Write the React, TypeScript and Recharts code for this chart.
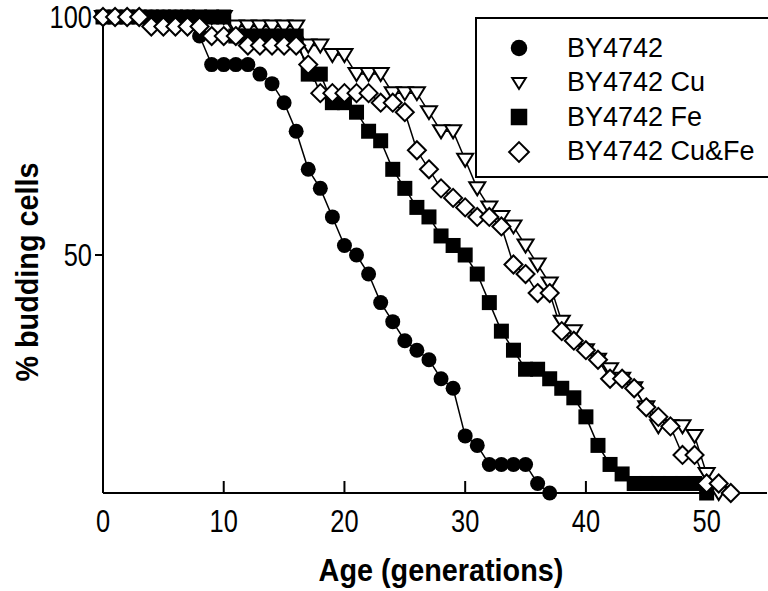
import React from 'react';
import { LineChart, Line, XAxis, YAxis, Legend } from 'recharts';

// generations (x categories)
const AGES = [
  0, 1, 2, 3, 4, 5, 6, 7, 8, 9, 10, 11, 12, 13, 14, 15, 16, 17, 18, 19, 20, 21, 22, 23, 24, 25, 26,
  27, 28, 29, 30, 31, 32, 33, 34, 35, 36, 37, 38, 39, 40, 41, 42, 43, 44, 45, 46, 47, 48, 49, 50, 51, 52,
];

// % budding cells per strain
const BY4742 = [
  100, 100, 100, 100, 100, 100, 100, 100, 96, 90, 90, 90, 90, 88, 86, 82, 76, 68, 64, 58, 52, 50, 46,
  40, 36, 32, 30, 28, 24, 22, 12, 10, 6, 6, 6, 6, 2, 0,
];
const BY4742_CU = [
  100, 100, 100, 100, 100, 100, 100, 100, 100, 100, 100, 98, 98, 98, 98, 98, 98, 94, 94, 92, 92, 88,
  88, 88, 84, 84, 84, 80, 76, 76, 70, 64, 60, 58, 56, 52, 48, 44, 36, 34, 30, 28, 26, 24, 22, 18, 14,
  14, 14, 12, 4, 0,
];
const BY4742_FE = [
  100, 100, 100, 100, 100, 100, 100, 100, 100, 100, 100, 96, 96, 96, 96, 96, 96, 88, 88, 82, 82, 80,
  76, 74, 68, 64, 60, 58, 54, 52, 50, 46, 40, 34, 30, 26, 26, 24, 22, 20, 16, 10, 6, 4, 2, 2, 2, 2, 2,
  2, 0,
];
const BY4742_CUFE = [
  100, 100, 100, 100, 98, 98, 98, 98, 98, 96, 96, 96, 94, 94, 94, 94, 94, 90, 84, 84, 84, 84, 84, 82,
  82, 80, 72, 68, 64, 62, 60, 58, 58, 56, 48, 46, 42, 42, 34, 32, 30, 28, 24, 24, 22, 18, 16, 14, 8, 8,
  2, 2, 0,
];

const X_TICKS = [0, 10, 20, 30, 40, 50];
const Y_TICKS = [50, 100];

const SERIES = [
  { key: 'by', name: 'BY4742', values: BY4742, shape: 'circle' },
  { key: 'cu', name: 'BY4742 Cu', values: BY4742_CU, shape: 'triangle' },
  { key: 'fe', name: 'BY4742 Fe', values: BY4742_FE, shape: 'square' },
  { key: 'cufe', name: 'BY4742 Cu&Fe', values: BY4742_CUFE, shape: 'diamond' },
];

const data = AGES.map((age, i) => {
  const row: Record<string, number | undefined> = { age };
  SERIES.forEach((s) => {
    row[s.key] = s.values[i];
  });
  return row;
});

const FONT = '"Liberation Sans", Arial, sans-serif';
// narrow look of the original axis text: regular face squeezed horizontally
const SQUEEZE = 0.82;

const Marker = ({ shape, cx, cy, s = 1 }: { shape: string; cx: number; cy: number; s?: number }) => {
  if (shape === 'circle') return <circle cx={cx} cy={cy} r={7.5 * s} fill="#000" />;
  if (shape === 'square')
    return <rect x={cx - 7.5 * s} y={cy - 7.5 * s} width={15 * s} height={15 * s} fill="#000" />;
  if (shape === 'triangle')
    return (
      <path
        d={`M${cx - 8 * s},${cy - 6 * s}L${cx + 8 * s},${cy - 6 * s}L${cx},${cy + 7 * s}Z`}
        fill="#fff"
        stroke="#000"
        strokeWidth={2}
      />
    );
  return (
    <path
      d={`M${cx},${cy - 9 * s}L${cx + 9 * s},${cy}L${cx},${cy + 9 * s}L${cx - 9 * s},${cy}Z`}
      fill="#fff"
      stroke="#000"
      strokeWidth={2}
    />
  );
};

const makeDot = (shape: string) => (props: any) => {
  const { cx, cy, index } = props;
  if (cx == null || cy == null || isNaN(cy)) return <g key={`e-${shape}-${index}`} />;
  return (
    <g key={`d-${shape}-${index}`}>
      <Marker shape={shape} cx={cx} cy={cy} />
    </g>
  );
};

const XTick = ({ x, y, payload }: any) => (
  <text
    transform={`translate(${x},${y}) scale(${SQUEEZE},1)`}
    textAnchor="middle"
    dy="0.71em"
    fontFamily={FONT}
    fontSize={31}
    fill="#000"
  >
    {payload.value}
  </text>
);

const YTick = ({ x, y, payload }: any) => (
  <text
    transform={`translate(${x},${y}) scale(${SQUEEZE},1)`}
    textAnchor="end"
    dy="0.355em"
    fontFamily={FONT}
    fontSize={31}
    fill="#000"
  >
    {payload.value}
  </text>
);

const LegendBox = () => (
  <div
    style={{
      boxSizing: 'border-box',
      width: 293,
      height: 161,
      border: '2px solid #000',
      borderRight: 'none',
      background: '#fff',
      paddingTop: 12,
    }}
  >
    {SERIES.map((s) => (
      <div key={s.key} style={{ display: 'flex', alignItems: 'center', height: 34.5 }}>
        <svg width={90} height={30} style={{ flex: 'none' }}>
          <Marker shape={s.shape} cx={42} cy={15} s={s.shape === 'triangle' ? 0.85 : 1.1} />
        </svg>
        <span style={{ fontFamily: FONT, fontSize: 27, color: '#000', whiteSpace: 'nowrap' }}>{s.name}</span>
      </div>
    ))}
  </div>
);

export default function App() {
  return (
    <div style={{ position: 'absolute', left: 0, top: 0, width: 768, height: 591, overflow: 'hidden', background: '#fff' }}>
      <LineChart width={768} height={591} data={data} margin={{ top: 17, right: 1, bottom: 0, left: 0 }}>
        <XAxis
          xAxisId="top"
          orientation="top"
          type="number"
          dataKey="age"
          domain={[0, 55]}
          height={0}
          tick={false}
          tickLine={false}
          axisLine={{ stroke: '#000', strokeWidth: 2 }}
        />
        <XAxis
          type="number"
          dataKey="age"
          domain={[0, 55]}
          ticks={X_TICKS}
          interval={0}
          height={98}
          tickSize={-12}
          tickMargin={29}
          axisLine={{ stroke: '#000', strokeWidth: 2 }}
          tickLine={{ stroke: '#000', strokeWidth: 2 }}
          tick={<XTick />}
          label={{
            content: () => (
              <text
                transform="translate(441,581) scale(0.9,1)"
                textAnchor="middle"
                fontFamily={FONT}
                fontWeight="bold"
                fontSize={32}
                fill="#000"
              >
                Age (generations)
              </text>
            ),
          }}
        />
        <YAxis
          type="number"
          domain={[0, 100]}
          ticks={Y_TICKS}
          interval={0}
          width={103}
          tickSize={8}
          tickMargin={3}
          axisLine={{ stroke: '#000', strokeWidth: 2 }}
          tickLine={{ stroke: '#000', strokeWidth: 2 }}
          tick={<YTick />}
          label={{
            content: () => (
              <text
                transform="translate(38,272) rotate(-90) scale(0.9,1)"
                textAnchor="middle"
                fontFamily={FONT}
                fontWeight="bold"
                fontSize={32}
                fill="#000"
              >
                % budding cells
              </text>
            ),
          }}
        />
        <Legend
          layout="vertical"
          align="center"
          verticalAlign="middle"
          wrapperStyle={{ left: 475, top: 17, width: 293, height: 161 }}
          content={() => <LegendBox />}
        />
        {SERIES.map((s) => (
          <Line
            key={s.key}
            dataKey={s.key}
            name={s.name}
            type="linear"
            stroke="#000"
            strokeWidth={1.5}
            dot={makeDot(s.shape)}
            activeDot={false}
            isAnimationActive={false}
          />
        ))}
      </LineChart>
    </div>
  );
}
